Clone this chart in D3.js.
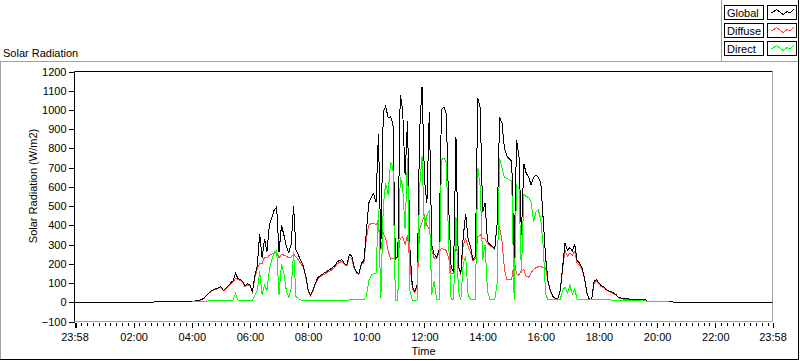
<!DOCTYPE html>
<html><head><meta charset="utf-8">
<script src="https://cdn.jsdelivr.net/npm/d3@7/dist/d3.min.js"></script>
<style>
html,body{margin:0;padding:0;background:#fff;}
svg{display:block;font-family:"Liberation Sans",Arial,sans-serif;font-size:11px;}
</style></head><body>
<svg id="c" width="800" height="361"></svg>
<script>
// ---------------- data ----------------
const chartTitle = "Solar Radiation";
const xTitle = "Time";
const yTitle = "Solar Radiation (W/m2)";
const seriesNames = ["Global", "Diffuse", "Direct"];
const seriesColors = ["#000000", "#ff4545", "#00ff00"];
const axisStartMin = -2;      // 23:58 previous day
const axisEndMin = 1438;      // 23:58
const dayStartMin = 240;      // 04:00, first sample
const stepMin = 5;            // sample spacing
const yTickValues = [-100,0,100,200,300,400,500,600,700,800,900,1000,1100,1200];
const xMajorTicks = [-2,120,240,360,480,600,720,840,960,1080,1200,1320,1438];
const xMajorLabels = ["23:58","02:00","04:00","06:00","08:00","10:00","12:00","14:00","16:00","18:00","20:00","22:00","23:58"];
const xMinorStep = 12;

const globalValues = [
 2,5,8,11,14,22,35,48,60,66,70,76,
 82,62,72,85,100,112,150,125,118,108,85,96,
 90,55,135,190,355,230,330,260,400,440,480,495,
 260,400,350,290,258,300,500,270,245,215,190,140,
 65,38,65,100,128,138,147,155,163,170,180,190,
 210,218,221,200,195,250,240,185,155,150,205,215,
 360,515,545,565,520,877,280,990,1020,960,965,930,
 225,240,1080,1000,660,940,280,80,55,90,890,1120,
 640,515,990,300,250,235,270,1000,1015,980,490,180,
 160,860,190,150,340,460,330,290,220,240,1060,1010,
 470,515,315,300,290,280,411,963,930,800,760,745,
 735,230,843,760,350,720,670,650,610,650,660,650,
 620,430,230,110,60,30,20,18,60,180,310,270,
 285,265,300,215,205,180,130,50,16,16,110,118,
 100,85,80,65,60,55,48,40,25,22,18,18,
 18,16,15,15,14,14,14,13,6,5,5,5,
 5,4,4,3,3,2,2,1,0
];
const diffuseValues = [
 2,4,7,10,13,20,33,46,57,63,67,72,
 78,60,68,80,95,105,125,118,112,103,80,90,
 88,53,125,175,200,200,235,230,245,250,255,260,
 230,250,245,240,230,235,250,235,220,200,180,132,
 60,35,60,95,122,132,140,148,155,162,172,182,
 200,208,212,195,188,235,228,175,150,145,200,205,
 330,400,410,410,405,420,270,360,330,270,225,230,
 225,235,330,340,300,350,200,70,50,80,380,420,
 450,400,380,270,230,225,260,280,275,270,230,150,
 150,330,180,145,300,330,290,260,215,230,340,350,
 330,330,305,295,285,275,410,390,320,170,120,118,
 118,215,150,140,165,170,135,130,155,170,180,185,
 185,180,180,105,55,28,18,16,58,170,270,240,
 255,245,265,200,195,170,125,48,15,15,100,110,
 95,80,76,62,57,52,45,38,24,20,17,16,
 16,14,13,13,12,12,12,11,5,4,4,4,
 4,3,3,2,2,2
];
const directValues = [
 3,3,4,4,5,5,6,7,8,9,10,10,
 10,10,10,10,10,12,45,12,10,10,10,10,
 10,10,35,60,160,40,90,60,170,220,260,270,
 40,200,150,60,25,70,260,30,20,12,10,10,
 10,8,8,8,8,8,8,8,8,8,8,8,
 10,10,10,10,10,12,12,12,12,12,12,12,
 30,110,140,150,150,480,20,500,620,560,730,700,
 10,12,650,600,380,750,60,10,10,12,600,760,
 380,450,480,40,110,14,14,740,750,730,300,14,
 14,445,60,14,200,240,40,14,14,14,700,600,
 220,300,60,14,14,14,100,750,700,650,645,635,
 630,14,610,590,150,560,550,545,520,420,470,480,
 430,290,40,14,14,14,14,14,14,60,80,50,
 90,40,70,14,14,14,14,14,12,12,12,12,
 12,12,12,12,12,12,10,10,10,10,10,10,
 8,8,8,8,8,8,7,7,6,6,5,5,
 5,5,5,5,5,5
];

// ---------------- drawing ----------------
const svg = d3.select("#c");
const plot = {left: 74.5, right: 772.5, top: 71.5, bottom: 321.5};

const x = d3.scaleLinear().domain([axisStartMin, axisEndMin]).range([plot.left, plot.right]);
const y = d3.scaleLinear().domain([-100, 1200]).range([plot.bottom, plot.top]);

// outer panel borders
const gray = "#a0a0a0";
svg.append("line").attr("x1",0).attr("x2",799).attr("y1",61.5).attr("y2",61.5).attr("stroke",gray);
svg.append("line").attr("x1",0.5).attr("x2",0.5).attr("y1",61).attr("y2",360).attr("stroke",gray);
svg.append("line").attr("x1",721.5).attr("x2",721.5).attr("y1",0).attr("y2",61).attr("stroke",gray);
svg.append("line").attr("x1",798.5).attr("x2",798.5).attr("y1",0).attr("y2",360).attr("stroke","#000");
svg.append("line").attr("x1",0).attr("x2",799).attr("y1",359.5).attr("y2",359.5).attr("stroke","#000");

// chart title
svg.append("text").attr("x",3).attr("y",56.5).text(chartTitle).attr("fill","#000");

// plot frame
svg.append("line").attr("x1",plot.left).attr("x2",plot.right).attr("y1",plot.top).attr("y2",plot.top).attr("stroke","#000");
svg.append("line").attr("x1",plot.right).attr("x2",plot.right).attr("y1",plot.top).attr("y2",plot.bottom).attr("stroke",gray);
svg.append("line").attr("x1",plot.left).attr("x2",plot.right).attr("y1",plot.bottom).attr("y2",plot.bottom).attr("stroke",gray);

// y axis
const yAxis = d3.axisLeft(y).tickValues(yTickValues).tickSize(6).tickPadding(2).tickFormat(d3.format("d"));
const gy = svg.append("g").attr("transform",`translate(${plot.left},0)`).call(yAxis);
gy.select(".domain").attr("stroke","#000").attr("d",`M0,${plot.top}V${plot.bottom}`);
gy.selectAll("text").attr("font-size",11).attr("font-family","Liberation Sans, Arial, sans-serif").attr("fill","#000");
gy.selectAll(".tick line").attr("stroke","#000").attr("shape-rendering","crispEdges");

// x axis minor
const minorVals = d3.range(0, 1440, xMinorStep).filter(v => !xMajorTicks.includes(v));
const gxMinor = svg.append("g").attr("transform",`translate(0,${plot.bottom+1})`)
  .call(d3.axisBottom(x).tickValues(minorVals).tickSize(3).tickFormat(""));
gxMinor.select(".domain").remove();
gxMinor.selectAll(".tick line").attr("stroke","#000").attr("shape-rendering","crispEdges");
// x axis major
const gx = svg.append("g").attr("transform",`translate(0,${plot.bottom+1})`)
  .call(d3.axisBottom(x).tickValues(xMajorTicks).tickSize(5).tickPadding(6)
    .tickFormat((d,i) => xMajorLabels[i]));
gx.select(".domain").remove();
gx.selectAll(".tick line").attr("stroke","#000").attr("shape-rendering","crispEdges");
gx.selectAll("text").attr("font-size",11).attr("font-family","Liberation Sans, Arial, sans-serif").attr("fill","#000");
gx.selectAll(".tick line").filter(d => d === axisStartMin).attr("stroke-width",2).attr("transform","translate(0.5,0)");

// axis titles
svg.append("text").attr("x",(plot.left+plot.right)/2).attr("y",355).attr("text-anchor","middle").text(xTitle);
svg.append("text").attr("transform","translate(36.5,186) rotate(-90)").attr("text-anchor","middle").text(yTitle);

// series data
const toPoints = vals => vals.map((v,i) => ({t: dayStartMin + i*stepMin, v}));
const globalPts = [{t: axisStartMin, v: 0}].concat(toPoints(globalValues), [{t: axisEndMin, v: 0}]);
const diffusePts = toPoints(diffuseValues);
const directPts = toPoints(directValues);

const line = d3.line().x(d => x(d.t)).y(d => y(d.v));
svg.append("clipPath").attr("id","pc").append("rect")
  .attr("x",plot.left).attr("y",plot.top).attr("width",plot.right-plot.left).attr("height",plot.bottom-plot.top);
const gLines = svg.append("g").attr("clip-path","url(#pc)");
[[diffusePts,1],[globalPts,0],[directPts,2]].forEach(([pts,k]) => {
  gLines.append("path").datum(pts).attr("d",line).attr("fill","none")
    .attr("stroke",seriesColors[k]).attr("stroke-width",1).attr("shape-rendering","crispEdges");
});

// legend
const legRowTop = [5, 23, 41];
const sample = [[0.08,0.55],[0.3,0.25],[0.55,0.7],[0.7,0.4],[0.8,0.55],[0.94,0.22]];
seriesNames.forEach((name,i) => {
  const top = legRowTop[i];
  svg.append("rect").attr("x",724.5).attr("y",top+0.5).attr("width",39).attr("height",14)
    .attr("fill","#fff").attr("stroke","#000");
  svg.append("text").attr("x",727).attr("y",top+11.5).text(name);
  svg.append("rect").attr("x",767.5).attr("y",top+0.5).attr("width",29).attr("height",14)
    .attr("fill","#fff").attr("stroke","#000");
  const lx = d3.scaleLinear().domain([0,1]).range([769,795]);
  const ly = d3.scaleLinear().domain([0,1]).range([top+2,top+13]);
  svg.append("path").datum(sample).attr("d", d3.line().x(d=>lx(d[0])).y(d=>ly(d[1])))
    .attr("fill","none").attr("stroke",seriesColors[i]).attr("shape-rendering","crispEdges");
});
</script>
</body></html>
